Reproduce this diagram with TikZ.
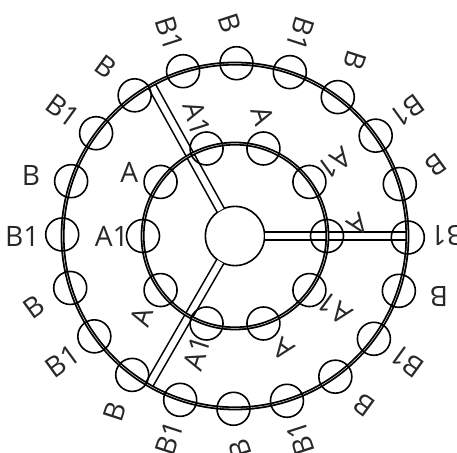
\documentclass[tikz,border=0pt]{standalone}
\usepackage{fontspec}
\setmainfont{Open Sans}
\definecolor{inktext}{RGB}{40, 40, 40}
\usetikzlibrary{positioning}
\begin{document}
\begin{tikzpicture}[
    ringbase/.style={circle, inner sep=0pt, outer sep=0pt},
    ringline/.style={ringbase, draw, line width=0.045cm, double, double distance=0.01cm},
    spoke/.style={line width=0.04cm, double, double distance=0.16cm},
    coil/.style={circle, draw, line width=0.04cm, minimum size=0.825cm,
                 inner sep=0pt, outer sep=0pt},
    coillabel/.style={text=inktext, inner sep=0pt, font=\fontsize{20}{24}\selectfont}
  ]
  \useasboundingbox (-5.875,-5.425) rectangle (5.55,5.9);

  % Hub, with the places of the two rings round it
  \node[circle, draw, line width=0.04cm, minimum size=1.48cm,
        inner sep=0pt, outer sep=0pt] (hub) at (0,0) {};
  \node[ringbase, minimum size=8.62cm] (outerplace) at (hub) {};
  \node[ringbase, minimum size=4.62cm] (innerplace) at (hub) {};

  % Spokes
  \foreach \ang in {0,119,240}
    \draw[spoke] (hub) -- (outerplace.\ang);

  % Rings, over the spokes
  \node[ringline, minimum size=8.62cm] (outerring) at (hub) {};
  \node[ringline, minimum size=4.62cm] (innerring) at (hub) {};

  % Outer coils and their labels
  \foreach \ang/\txt/\off/\turn [count=\i] in {0/B1/0/0,18/B/1.5/18,36/B1/0/0,54/B/1.5/18,
      72/B1/0/0,90/B/1.5/18,108/B1/0/0,126/B/1.5/18,144/B1/0/0,162/B/1.5/18,180/B1/0/0,
      198/B/1.5/18,216/B1/0/0,234/B/1.5/18,252/B1/0/0,270/B/1.5/18,288/B1/0/0,
      306/B/1.5/18,324/B1/0/0,342/B/1.5/18} {
    \node[coil] (outer\i) at (\ang-0.5:4.32) {};
    \node[coillabel, rotate=\ang+\turn+180] (outerlabel\i) at (\ang+\off:5.32) {\txt};
  }

  % Inner coils and their labels
  \foreach \ang/\txt/\off/\turn [count=\i] in {0/A/5/36,36/A1/0/0,72/A/5/36,108/A1/0/0,
      144/A/5/36,180/A1/0/0,216/A/5/36,252/A1/0/0,288/A/5/36,324/A1/0/0} {
    \node[coil] (inner\i) at (\ang:2.3) {};
    \node[coillabel, rotate=\ang+\turn+180] (innerlabel\i) at (\ang+\off:3.08) {\txt};
  }
\end{tikzpicture}
\end{document}
